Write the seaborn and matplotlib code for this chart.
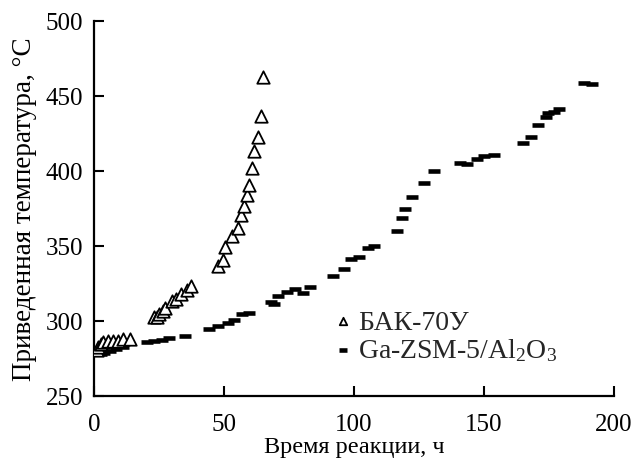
import matplotlib
matplotlib.use("Agg")
import matplotlib.pyplot as plt
import seaborn as sns
import pandas as pd

# BAK-70U (open triangles)
bak_t = [1, 1.6, 2.5, 3.5, 5.4, 7.3, 9.2, 11.2, 13.8,
         23.0, 24.2, 25.0, 26.5, 27.2, 29.9, 31.5, 33.6, 35.6, 37.4,
         47.8, 49.5, 50.5, 53.0, 55.3, 56.5, 57.7, 58.7, 59.7, 60.8,
         61.7, 63.0, 64.1, 64.9]
bak_T = [281, 283, 285, 286, 287, 287, 287, 288, 288,
         303, 303, 305, 307, 309, 313.5, 314.7, 318, 321, 323.5,
         337, 341, 349.5, 357, 362, 370.5, 377, 384, 391, 402,
         413.5, 423, 437, 462.5]

# Ga-ZSM-5/Al2O3 (dashes)
ga_t = [2.5, 4, 6, 8.5, 11, 20.5, 23, 26, 29, 35,
        44.3, 47.8, 51.7, 53.9, 57, 59.5, 68.0, 69.3, 70.9, 74.1,
        77.3, 80.4, 83.1, 92.1, 96.0, 98.8, 101.9, 105.3, 107.7,
        116.7, 118.3, 119.6, 122.4, 127.0, 130.9, 140.8, 143.6,
        147.3, 150.0, 153.9, 164.9, 168.0, 170.8, 173.8, 174.7,
        177.0, 178.9, 188.6, 191.4]
ga_T = [278, 279, 280, 281.5, 283, 285.8, 286.5, 287.5, 288.5, 290,
        294.7, 296.9, 298.4, 300.7, 305, 305.5, 312.9, 311.3, 317, 319.1,
        321.3, 318.7, 323, 329.8, 334.7, 341.3, 342.4, 348.5, 350.2,
        360.2, 368.5, 374.7, 382.5, 391.8, 400.2, 405.3, 404.5,
        408, 409.8, 410.7, 418.7, 422.5, 430.9, 435.8, 438.4,
        439.5, 441.3, 458.7, 458]

x_ticks = [0, 50, 100, 150, 200]
y_ticks = [250, 300, 350, 400, 450, 500]

sns.set_theme(style="ticks")
plt.rcParams['font.family'] = ['Liberation Serif', 'DejaVu Serif']
plt.rcParams['mathtext.fontset'] = 'custom'
plt.rcParams['mathtext.rm'] = 'Liberation Serif'
plt.rcParams['mathtext.it'] = 'Liberation Serif:italic'

df_bak = pd.DataFrame({"t": bak_t, "T": bak_T})
df_ga = pd.DataFrame({"t": ga_t, "T": ga_T})

fig = plt.figure(figsize=(6.35, 4.64), dpi=100)
ax = fig.add_axes([94/635, 1-397/464, (614-94)/635, (397-22)/464])

sns.scatterplot(data=df_ga, x="t", y="T", ax=ax, marker="_", s=72,
                color="black", linewidth=3.3, label="Ga-ZSM-5/Al$_2$O$_3$",
                zorder=3)
sns.scatterplot(data=df_bak, x="t", y="T", ax=ax, marker="^", s=80,
                facecolor="white", edgecolor="black", linewidth=1.3,
                label="БАК-70У", zorder=4)

ax.set_xlim(0, 200)
ax.set_ylim(250, 500)
ax.set_xticks(x_ticks)
ax.set_yticks(y_ticks)
ax.tick_params(direction="in", length=7, width=1.5, labelsize=18,
               colors="black")
ax.tick_params(axis="x", pad=12)
ax.tick_params(axis="y", pad=8)
for side in ["top", "right"]:
    ax.spines[side].set_visible(False)
for side in ["left", "bottom"]:
    ax.spines[side].set_linewidth(1.6)
    ax.spines[side].set_color("black")

ax.set_xlabel("Время реакции, ч", fontsize=17.5, labelpad=1, color="black")
ax.set_ylabel("Приведенная температура, °C", fontsize=19.5, labelpad=6,
              color="black")

handles, labels = ax.get_legend_handles_labels()
order = [1, 0]
leg = ax.legend([handles[i] for i in order], [labels[i] for i in order],
                loc="upper left", bbox_to_anchor=((325-94)/520, (397-299)/375),
                frameon=False, fontsize=20, handlelength=0.5,
                handletextpad=0.3, labelspacing=0.05, borderaxespad=0,
                markerscale=0.6)

fig.savefig("out.png", dpi=100)
